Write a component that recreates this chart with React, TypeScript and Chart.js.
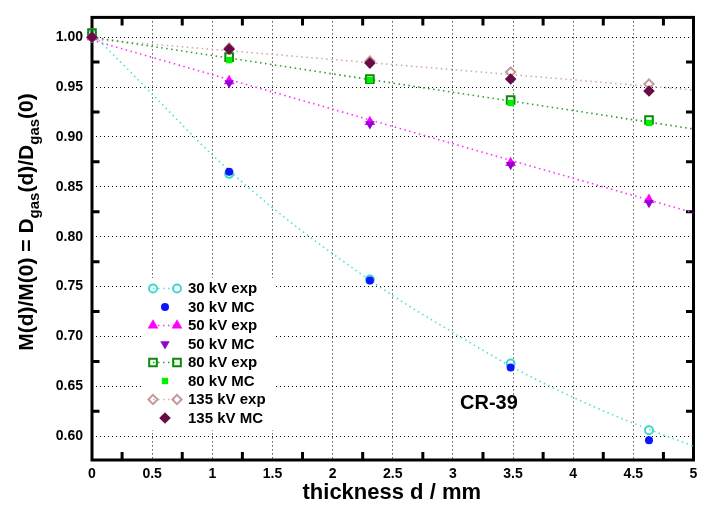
import React, { useEffect, useRef } from "react";
import { Chart, registerables } from "chart.js";
import { drawPoint } from "chart.js/helpers";
Chart.register(...registerables);

// ---- data ----
const thickness = [0, 1.14, 2.31, 3.48, 4.63];
const kv30Exp = [1.004, 0.863, 0.757, 0.673, 0.606];
const kv30MC = [1.0, 0.865, 0.756, 0.669, 0.596];
const kv50Exp = [1.0, 0.956, 0.915, 0.874, 0.837];
const kv50MC = [1.0, 0.954, 0.913, 0.872, 0.834];
const kv80Exp = [1.004, 0.98, 0.958, 0.937, 0.917];
const kv80MC = [1.0, 0.977, 0.957, 0.934, 0.914];
const kv135Exp = [1.0, 0.989, 0.976, 0.965, 0.953];
const kv135MC = [1.0, 0.988, 0.974, 0.958, 0.946];

const fitX30 = [0, 0.5, 1, 1.5, 2, 2.5, 3, 3.5, 4, 4.5, 5];
const fit30 = [1.004, 0.943, 0.882, 0.829, 0.783, 0.741, 0.704, 0.669, 0.639, 0.613, 0.59];
const fitXLin = [0, 5];
const fit50 = [0.997, 0.824];
const fit80 = [1.0, 0.908];
const fit135 = [0.998, 0.947];

const xTicks = [0, 0.5, 1, 1.5, 2, 2.5, 3, 3.5, 4, 4.5, 5];
const yTicks = [0.6, 0.65, 0.7, 0.75, 0.8, 0.85, 0.9, 0.95, 1.0];
const xMinorTicks = [0.25, 0.75, 1.25, 1.75, 2.25, 2.75, 3.25, 3.75, 4.25, 4.75];
const yMinorTicks = [0.625, 0.675, 0.725, 0.775, 0.825, 0.875, 0.925, 0.975];

const seriesLabels = [
  "30 kV exp", "30 kV MC", "50 kV exp", "50 kV MC",
  "80 kV exp", "80 kV MC", "135 kV exp", "135 kV MC",
];
const seriesValues = [kv30Exp, kv30MC, kv50Exp, kv50MC, kv80Exp, kv80MC, kv135Exp, kv135MC];

const xTitle = "thickness d / mm";
const materialLabel = "CR-39";

// ---- styles ----
const FONT = "'Liberation Sans', Arial, Helvetica, sans-serif";
const markerStyles = [
  { pointStyle: "circle", radius: 4.0, color: "#40d8cc", fill: false, bw: 2, rot: 0 },
  { pointStyle: "circle", radius: 4.0, color: "#0a14ff", fill: true, bw: 0, rot: 0 },
  { pointStyle: "triangle", radius: 6.2, color: "#ff00ff", fill: true, bw: 0, rot: 0 },
  { pointStyle: "triangle", radius: 5.5, color: "#9400d3", fill: true, bw: 0, rot: 180 },
  { pointStyle: "rect", radius: 5.4, color: "#088c08", fill: false, bw: 2, rot: 0 },
  { pointStyle: "rect", radius: 4.5, color: "#00f000", fill: true, bw: 0, rot: 0 },
  { pointStyle: "rectRot", radius: 4.6, color: "#c49a9a", fill: false, bw: 2, rot: 0 },
  { pointStyle: "rectRot", radius: 5.8, color: "#680c48", fill: true, bw: 0, rot: 0 },
];
const lineColors = ["#50e0d8", "#ff30ff", "#28a028", "#d4aaaa"];

function pts(xs: number[], ys: number[]) {
  return xs.map((x, i) => ({ x, y: ys[i] }));
}

function drawYTitle(ctx: CanvasRenderingContext2D, cx: number, cy: number) {
  const big = `bold 21px ${FONT}`;
  const small = `bold 15px ${FONT}`;
  const segs: [string, boolean][] = [
    ["M(d)/M(0) = D", false],
    ["gas", true],
    ["(d)/D", false],
    ["gas", true],
    ["(0)", false],
  ];
  let total = 0;
  const widths = segs.map(([t, sub]) => {
    ctx.font = sub ? small : big;
    const w = ctx.measureText(t).width;
    total += w;
    return w;
  });
  ctx.save();
  ctx.translate(cx, cy);
  ctx.rotate(-Math.PI / 2);
  ctx.fillStyle = "#000";
  ctx.textBaseline = "alphabetic";
  ctx.textAlign = "left";
  let pos = -total / 2;
  segs.forEach(([t, sub], i) => {
    ctx.font = sub ? small : big;
    ctx.fillText(t, pos, sub ? 6 : 0);
    pos += widths[i];
  });
  ctx.restore();
}

function marker(ctx: CanvasRenderingContext2D, i: number, x: number, y: number) {
  const s = markerStyles[i];
  ctx.save();
  ctx.fillStyle = s.fill ? s.color : "rgba(0,0,0,0)";
  ctx.strokeStyle = s.color;
  ctx.lineWidth = s.bw;
  drawPoint(ctx, { pointStyle: s.pointStyle as any, radius: s.radius, rotation: s.rot, borderWidth: s.bw }, x, y);
  ctx.restore();
}

const decorPlugin = {
  id: "decor",
  beforeDatasetsDraw(chart: any) {
    const { ctx, chartArea: a, scales } = chart;
    const xs = scales.x;
    const ys = scales.y;
    ctx.save();
    ctx.strokeStyle = "#000";
    ctx.lineWidth = 3;
    ctx.setLineDash([]);
    ctx.beginPath();
    for (const v of xMinorTicks) {
      const px = xs.getPixelForValue(v);
      ctx.moveTo(px, a.bottom);
      ctx.lineTo(px, a.bottom - 8);
      ctx.moveTo(px, a.top);
      ctx.lineTo(px, a.top + 8);
    }
    for (const v of yMinorTicks) {
      const py = ys.getPixelForValue(v);
      ctx.moveTo(a.left, py);
      ctx.lineTo(a.left + 7.5, py);
      ctx.moveTo(a.right, py);
      ctx.lineTo(a.right - 7.5, py);
    }
    ctx.stroke();
    ctx.strokeRect(a.left, a.top, a.right - a.left, a.bottom - a.top);
    ctx.restore();
  },
  afterDraw(chart: any) {
    const { ctx, chartArea: a } = chart;
    ctx.save();
    // axis titles
    drawYTitle(ctx, 33, 222);
    ctx.fillStyle = "#000";
    ctx.font = `bold 22px ${FONT}`;
    ctx.textAlign = "center";
    ctx.textBaseline = "alphabetic";
    ctx.fillText(xTitle, (a.left + a.right) / 2 - 1, 499);

    // material label
    ctx.font = `bold 20px ${FONT}`;
    ctx.textAlign = "left";
    ctx.textBaseline = "middle";
    ctx.fillText(materialLabel, 460, 403);

    // legend
    ctx.fillStyle = "#fff";
    ctx.fillRect(144, 278, 129, 152);
    const y0 = 288.5;
    const dy = 18.5;
    seriesLabels.forEach((label, i) => {
      const yy = y0 + i * dy;
      const isExp = i % 2 === 0;
      if (isExp) {
        ctx.save();
        ctx.strokeStyle = lineColors[i / 2];
        ctx.lineWidth = 1.5;
        ctx.setLineDash([1.5, 3.5]);
        ctx.beginPath();
        ctx.moveTo(153, yy);
        ctx.lineTo(177, yy);
        ctx.stroke();
        ctx.restore();
        marker(ctx, i, 153, yy);
        marker(ctx, i, 177, yy);
      } else {
        marker(ctx, i, 165, yy);
      }
      ctx.fillStyle = "#000";
      ctx.font = `bold 15px ${FONT}`;
      ctx.textAlign = "left";
      ctx.textBaseline = "middle";
      ctx.fillText(label, 188, yy + 0.5);
    });
    ctx.restore();
  },
};

export default function App() {
  const ref = useRef<HTMLCanvasElement | null>(null);
  useEffect(() => {
    if (!ref.current) return;
    const fitSets = [
      { xs: fitX30, ys: fit30, c: lineColors[0] },
      { xs: fitXLin, ys: fit50, c: lineColors[1] },
      { xs: fitXLin, ys: fit80, c: lineColors[2] },
      { xs: fitXLin, ys: fit135, c: lineColors[3] },
    ].map((f, k) => ({
      label: "fit" + k,
      data: pts(f.xs, f.ys),
      showLine: true,
      borderColor: f.c,
      backgroundColor: f.c,
      borderWidth: 1.6,
      borderDash: [1.5, 3.5],
      pointRadius: 0,
      fill: false,
      cubicInterpolationMode: "monotone",
      order: 20,
    }));
    const markerSets = seriesValues.map((vals, i) => {
      const s = markerStyles[i];
      return {
        label: seriesLabels[i],
        data: pts(thickness, vals),
        showLine: false,
        pointStyle: s.pointStyle,
        pointRadius: s.radius,
        pointRotation: s.rot,
        pointBorderWidth: s.bw,
        pointBorderColor: s.color,
        pointBackgroundColor: s.fill ? s.color : "rgba(0,0,0,0)",
        borderColor: s.color,
        backgroundColor: s.fill ? s.color : "rgba(0,0,0,0)",
        clip: false,
        order: 10 - i,
      };
    });
    const chart = new Chart(ref.current, {
      type: "scatter",
      data: { datasets: [...fitSets, ...markerSets] as any },
      plugins: [decorPlugin],
      options: {
        animation: false,
        responsive: false,
        events: [],
        layout: { padding: { left: 0, top: 7, right: 10.5, bottom: 0 } },
        plugins: { legend: { display: false }, tooltip: { enabled: false } },
        scales: {
          x: {
            type: "linear",
            min: 0,
            max: 5,
            afterBuildTicks: (s: any) => {
              s.ticks = xTicks.map((v) => ({ value: v }));
            },
            afterFit: (s: any) => {
              s.height = 45;
            },
            ticks: {
              autoSkip: false,
              maxRotation: 0,
              padding: 6,
              color: "#000",
              font: { family: FONT, size: 14, weight: "bold" },
              callback: (v: any) => String(v),
            },
            grid: { color: "#000", lineWidth: 1, drawTicks: false },
            border: { display: false, dash: [1, 3] },
          },
          y: {
            type: "linear",
            min: 0.5762,
            max: 1.0198,
            afterBuildTicks: (s: any) => {
              s.ticks = yTicks.map((v) => ({ value: v }));
            },
            afterFit: (s: any) => {
              s.width = 92;
            },
            ticks: {
              autoSkip: false,
              padding: 9,
              color: "#000",
              font: { family: FONT, size: 14, weight: "bold" },
              callback: (v: any) => Number(v).toFixed(2),
            },
            grid: { color: "#000", lineWidth: 1, drawTicks: false },
            border: { display: false, dash: [1, 3] },
          },
        },
      } as any,
    });
    return () => chart.destroy();
  }, []);
  return (
    <div style={{ position: "fixed", left: 0, top: 0, width: 704, height: 505, background: "#fff" }}>
      <canvas ref={ref} width={704} height={505} style={{ display: "block" }} />
    </div>
  );
}
